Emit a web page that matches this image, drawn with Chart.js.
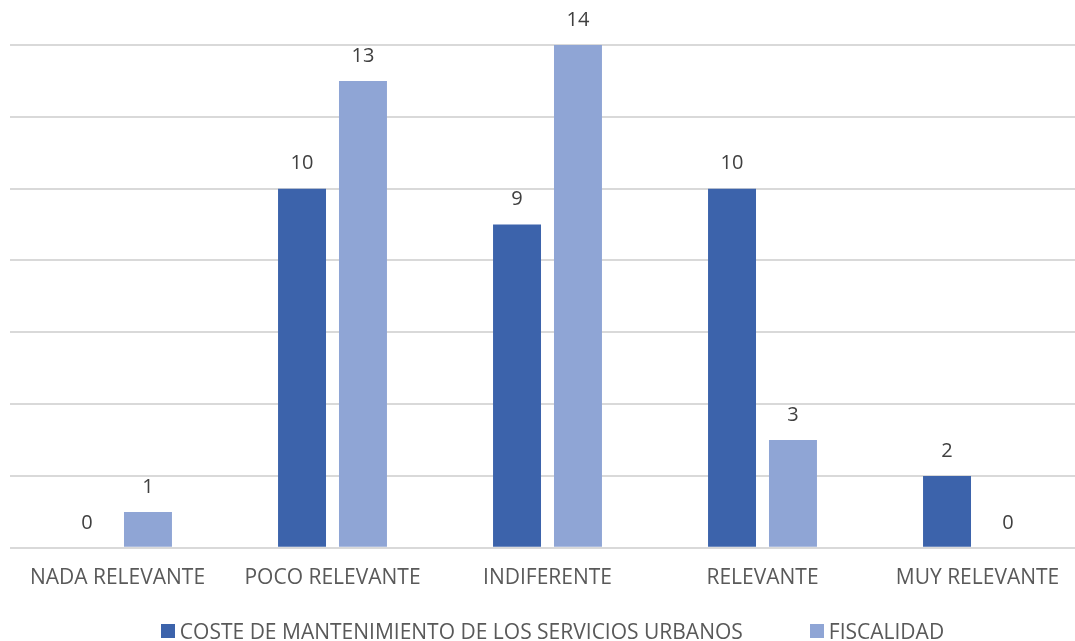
<!DOCTYPE html>
<html>
<head>
<meta charset="utf-8">
<script src="https://cdn.jsdelivr.net/npm/chart.js@4.4.1/dist/chart.umd.min.js"></script>
<style>
  html, body { margin: 0; padding: 0; background: #fff; overflow: hidden; }
  #wrap { position: relative; width: 1085px; height: 641px; }
  #legend {
    position: absolute; left: 0; top: 618px; width: 1105px;
    display: flex; justify-content: center; align-items: center;
    font: 21px 'Open Sans', sans-serif; color: #595959; line-height: 26px;
  }
  #legend .item { display: flex; align-items: center; white-space: nowrap; }
  #legend .item + .item { margin-left: 67px; }
  #legend .swatch { width: 14px; height: 14px; margin-right: 5px; }
</style>
</head>
<body>
<div id="wrap">
  <canvas id="myChart"></canvas>
  <div id="legend"></div>
</div>
<script>
const categories = ["NADA RELEVANTE", "POCO RELEVANTE", "INDIFERENTE", "RELEVANTE", "MUY RELEVANTE"];
const costeValues = [0, 10, 9, 10, 2];
const fiscalidadValues = [1, 13, 14, 3, 0];
const seriesNames = ["COSTE DE MANTENIMIENTO DE LOS SERVICIOS URBANOS", "FISCALIDAD"];
const barColors = ["#3c63ab", "#8fa5d5"];

const fontFamily = "'Open Sans', sans-serif";

// draws the value above each bar
const valueLabels = {
  id: "valueLabels",
  afterDatasetsDraw(chart) {
    const ctx = chart.ctx;
    ctx.save();
    ctx.font = "20px " + fontFamily;
    ctx.fillStyle = "#404040";
    ctx.textAlign = "center";
    ctx.textBaseline = "middle";
    chart.data.datasets.forEach((ds, i) => {
      chart.getDatasetMeta(i).data.forEach((bar, j) => {
        ctx.fillText(ds.data[j], bar.x, bar.y - 25);
      });
    });
    ctx.restore();
  }
};

// legend built as html from the chart's own legend items
const htmlLegend = {
  id: "htmlLegend",
  afterUpdate(chart) {
    const box = document.getElementById("legend");
    box.innerHTML = "";
    const items = chart.options.plugins.legend.labels.generateLabels(chart);
    items.forEach(item => {
      const el = document.createElement("div");
      el.className = "item";
      const sw = document.createElement("span");
      sw.className = "swatch";
      sw.style.background = item.fillStyle;
      const txt = document.createElement("span");
      txt.textContent = item.text;
      el.appendChild(sw);
      el.appendChild(txt);
      box.appendChild(el);
    });
  }
};

new Chart("myChart", {
  type: "bar",
  data: {
    labels: categories,
    datasets: [
      { label: seriesNames[0], data: costeValues, backgroundColor: barColors[0] },
      { label: seriesNames[1], data: fiscalidadValues, backgroundColor: barColors[1] }
    ]
  },
  plugins: [valueLabels, htmlLegend],
  options: {
    responsive: true,
    maintainAspectRatio: false,
    animation: false,
    categoryPercentage: 0.567,
    barPercentage: 0.787,
    layout: { padding: { left: 10, right: 0, top: 45, bottom: 32 } },
    plugins: {
      legend: { display: false },
      tooltip: { enabled: false }
    },
    scales: {
      x: {
        grid: { display: false, drawTicks: false },
        border: { display: false },
        ticks: {
          color: "#595959",
          font: { family: fontFamily, size: 21 },
          padding: 18
        }
      },
      y: {
        min: 0,
        max: 14,
        ticks: { display: false, stepSize: 2 },
        grid: { color: "#d9d9d9", lineWidth: 2, drawTicks: false },
        border: { display: false }
      }
    }
  }
});
</script>
</body>
</html>
